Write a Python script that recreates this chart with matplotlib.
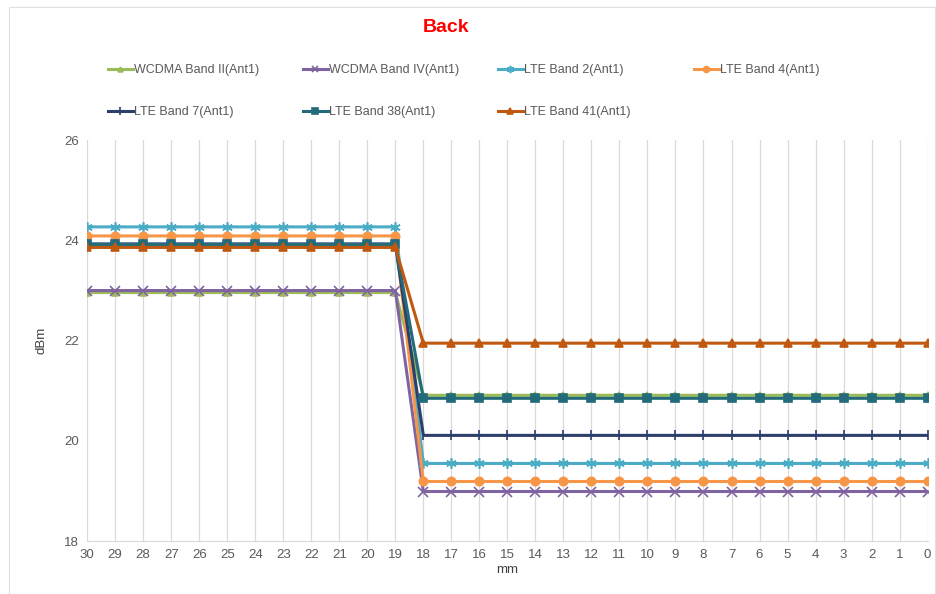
import matplotlib
matplotlib.use("Agg")
import matplotlib.pyplot as plt
from matplotlib.lines import Line2D

plt.rcParams['font.family'] = ['Liberation Sans', 'DejaVu Sans']

x_mm = list(range(30, -1, -1))
series_names = ["WCDMA Band II(Ant1)", "WCDMA Band IV(Ant1)", "LTE Band 2(Ant1)", "LTE Band 4(Ant1)",
                "LTE Band 7(Ant1)", "LTE Band 38(Ant1)", "LTE Band 41(Ant1)"]
# value for 30..19 mm and for 18..0 mm
before_values = [22.96, 23.0, 24.27, 24.09, 23.93, 23.92, 23.86]
after_values = [20.91, 18.99, 19.55, 19.19, 20.11, 20.85, 21.95]
n_before = 12  # 30..19
colors = ["#9BBB59", "#8064A2", "#4BACC6", "#F79646", "#2C3E6B", "#236B7A", "#C0580F"]
markers = ["^", "x", (6, 2, 0), "o", "|", "s", "^"]
msizes = [5, 6.5, 7.5, 6, 7.5, 6, 6]

fig = plt.figure(figsize=(9.37, 5.94), dpi=100)
ax = fig.add_axes([0.093, 0.089, 0.897, 0.675])

lines = []
for name, b, a, c, m, ms in zip(series_names, before_values, after_values, colors, markers, msizes):
    y = [b] * n_before + [a] * (len(x_mm) - n_before)
    ln, = ax.plot(range(len(x_mm)), y, color=c, marker=m, markersize=ms, linewidth=2.2,
                  markeredgewidth=1.2, label=name)
    lines.append(ln)

ax.set_xlim(0, len(x_mm) - 1)
ax.set_xticks(range(len(x_mm)))
ax.set_xticklabels([str(v) for v in x_mm])
ax.set_ylim(18, 26)
ax.set_yticks([18, 20, 22, 24, 26])
ax.grid(axis='x', color='#D9D9D9', linewidth=0.9)
ax.set_axisbelow(True)
for s in ['top', 'right', 'left']:
    ax.spines[s].set_visible(False)
ax.spines['bottom'].set_color('#D9D9D9')
ax.tick_params(axis='both', length=0, labelsize=9.5, colors='#595959', pad=6)
ax.set_xlabel("mm", fontsize=9.5, color='#404040', labelpad=2)
ax.set_ylabel("dBm", fontsize=9.5, color='#404040', labelpad=12)

fig.text(0.476, 0.953, "Back", color='red', fontsize=14, fontweight='bold', ha='center', va='center')

col_x = [107, 302, 497, 693]
row_y = [70, 112]
for i, ln in enumerate(lines):
    r, cidx = divmod(i, 4)
    leg = fig.legend(handles=[ln], labels=[ln.get_label()], loc='center left',
                     bbox_to_anchor=(col_x[cidx] / 937 - 0.011, 1 - row_y[r] / 594),
                     frameon=False, fontsize=9, handlelength=2.0, handletextpad=0.1,
                     markerscale=0.7)
    for t in leg.get_texts():
        t.set_color('#595959')

border = plt.Rectangle((9 / 937, -0.01), (935 - 9) / 937, 1 - 7 / 594 + 0.01, transform=fig.transFigure,
                       fill=False, edgecolor='#E0E0E0', linewidth=0.8)
fig.patches.append(border)

fig.savefig("out.png", dpi=100)
